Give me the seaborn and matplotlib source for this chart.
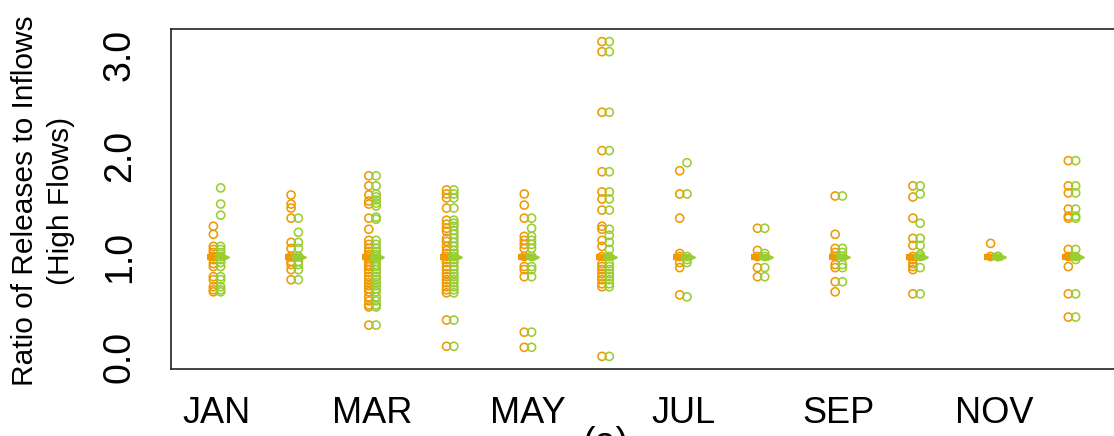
"""
Monthly ratio of releases to inflows (high flows), two series side by side.
"""
import pandas as pd
import seaborn as sns
import matplotlib.pyplot as plt

months = ['JAN', 'FEB', 'MAR', 'APR', 'MAY', 'JUN',
          'JUL', 'AUG', 'SEP', 'OCT', 'NOV', 'DEC']
tick_labels = ['JAN', '', 'MAR', '', 'MAY', '', 'JUL', '', 'SEP', '', 'NOV', '']
series = ['orange', 'green']
ref_level = 1.0

# series A (orange)
jan_a = [1.30, 1.22, 1.10, 1.07, 1.04, 1.0, 1.0, 0.97, 0.93, 0.90, 0.80, 0.77, 0.70, 0.67, 0.65]
feb_a = [1.61, 1.52, 1.48, 1.38, 1.14, 1.08, 1.0, 1.0, 0.95, 0.92, 0.87, 0.77]
mar_a = [1.80, 1.70, 1.61, 1.55, 1.52, 1.38, 1.27, 1.16, 1.12, 1.08, 1.05, 1.02, 1.0, 0.98,
         0.95, 0.92, 0.90, 0.87, 0.84, 0.80, 0.77, 0.74, 0.71, 0.68, 0.65, 0.60, 0.56, 0.52, 0.50, 0.32]
apr_a = [1.66, 1.62, 1.58, 1.48, 1.36, 1.32, 1.28, 1.25, 1.18, 1.15, 1.10, 1.06, 1.03, 1.0, 0.97,
         0.94, 0.90, 0.87, 0.83, 0.80, 0.77, 0.74, 0.70, 0.67, 0.64, 0.37, 0.11]
may_a = [1.62, 1.51, 1.38, 1.20, 1.16, 1.12, 1.08, 1.0, 0.90, 0.87, 0.80, 0.25, 0.10]
jun_a = [3.13, 3.03, 2.43, 2.05, 1.84, 1.64, 1.57, 1.46, 1.30, 1.27, 1.16, 1.10, 1.0, 0.93,
         0.90, 0.87, 0.83, 0.80, 0.77, 0.73, 0.70, 0.01]
jul_a = [1.85, 1.62, 1.38, 1.03, 1.0, 0.94, 0.89, 0.62]
aug_a = [1.28, 1.06, 1.0, 0.89, 0.80]
sep_a = [1.60, 1.22, 1.08, 1.04, 1.0, 0.92, 0.89, 0.75, 0.65]
oct_a = [1.70, 1.59, 1.38, 1.18, 1.11, 1.0, 0.97, 0.93, 0.90, 0.87, 0.63]
nov_a = [1.13, 1.0]
dec_a = [1.95, 1.70, 1.63, 1.47, 1.40, 1.38, 1.07, 1.0, 0.90, 0.63, 0.40]

# series B (green)
jan_b = [1.68, 1.52, 1.41, 1.10, 1.07, 1.04, 1.0, 1.0, 0.97, 0.94, 0.90, 0.80, 0.77, 0.70, 0.67, 0.65]
feb_b = [1.38, 1.24, 1.14, 1.08, 1.0, 1.0, 0.95, 0.92, 0.87, 0.77]
mar_b = [1.80, 1.70, 1.62, 1.59, 1.56, 1.53, 1.50, 1.39, 1.37, 1.16, 1.12, 1.08, 1.05, 1.02, 1.0,
         0.98, 0.95, 0.92, 0.90, 0.87, 0.84, 0.80, 0.77, 0.74, 0.71, 0.68, 0.65, 0.60, 0.56, 0.52, 0.50, 0.32]
apr_b = [1.66, 1.62, 1.58, 1.48, 1.36, 1.33, 1.30, 1.26, 1.22, 1.18, 1.14, 1.10, 1.06, 1.03, 1.0,
         0.97, 0.94, 0.90, 0.87, 0.83, 0.80, 0.77, 0.74, 0.70, 0.67, 0.64, 0.37, 0.11]
may_b = [1.38, 1.28, 1.20, 1.16, 1.12, 1.08, 1.0, 0.90, 0.87, 0.80, 0.25, 0.10]
jun_b = [3.13, 3.03, 2.43, 2.05, 1.84, 1.64, 1.57, 1.46, 1.27, 1.21, 1.14, 1.07, 1.0, 0.93,
         0.90, 0.87, 0.83, 0.80, 0.77, 0.73, 0.70, 0.01]
jul_b = [1.93, 1.62, 1.0, 0.97, 0.94, 0.60]
aug_b = [1.28, 1.03, 1.0, 0.89, 0.80]
sep_b = [1.60, 1.08, 1.04, 1.0, 0.92, 0.89, 0.75]
oct_b = [1.70, 1.62, 1.33, 1.18, 1.11, 1.02, 1.0, 0.89, 0.63]
nov_b = [1.0, 1.0]
dec_b = [1.95, 1.70, 1.63, 1.47, 1.40, 1.38, 1.07, 1.0, 0.97, 0.63, 0.40]

vals_a = [jan_a, feb_a, mar_a, apr_a, may_a, jun_a, jul_a, aug_a, sep_a, oct_a, nov_a, dec_a]
vals_b = [jan_b, feb_b, mar_b, apr_b, may_b, jun_b, jul_b, aug_b, sep_b, oct_b, nov_b, dec_b]

rows = []
for i, (a, b) in enumerate(zip(vals_a, vals_b)):
    rows += [(i + 1, v, 'orange') for v in a]
    rows += [(i + 1, v, 'green') for v in b]
df = pd.DataFrame(rows, columns=['month', 'ratio', 'series'])

colors = {'orange': '#EE9A00', 'green': '#9ACD32'}
offsets = {'orange': -0.047, 'green': 0.047}

sns.set_style('white')
plt.rcParams['font.family'] = ['Liberation Sans', 'DejaVu Sans']
plt.rcParams['text.color'] = 'black'
plt.rcParams['axes.labelcolor'] = 'black'
plt.rcParams['xtick.color'] = 'black'
plt.rcParams['ytick.color'] = 'black'

fig = plt.figure(figsize=(11.14, 4.36), dpi=100)
ax = fig.add_axes([171 / 1114, (436 - 369) / 436, (1118 - 171) / 1114, 340 / 436])

for s in series:
    sub = df[df['series'] == s]
    sns.scatterplot(x=sub['month'] + offsets[s], y=sub['ratio'], ax=ax, marker='o', s=34,
                    facecolor='none', edgecolor=colors[s], linewidth=1.15, legend=False)

# level markers at 1.0
m = pd.Series(range(1, 13))
ax.hlines([ref_level] * 12, m - 0.13, m - 0.03, color=colors['orange'], lw=4.5, zorder=3)
ax.hlines([ref_level] * 12, m - 0.03, m + 0.10, color=colors['green'], lw=4.5, zorder=3)
ax.plot(m + 0.11, [ref_level] * 12, ls='none', marker='>', ms=5, color=colors['green'], zorder=3)

ax.set_xlim(0.408, 12.592)
ax.set_ylim(-0.115, 3.255)
ax.set_xticks(range(1, 13))
ax.set_xticklabels(tick_labels)
ax.set_yticks([0, 0.5, 1, 1.5, 2, 2.5, 3])
ax.set_yticklabels(['0.0', '', '1.0', '', '2.0', '', '3.0'], rotation=90, va='center')
ax.tick_params(axis='x', length=11.5, width=1, labelsize=26, pad=8)
ax.tick_params(axis='y', length=11, width=1, labelsize=27, pad=13)
ax.set_xlabel('')
ax.set_ylabel('Ratio of Releases to Inflows\n(High Flows)', fontsize=21.5,
              linespacing=1.38, va='center')
ax.yaxis.set_label_coords(-0.135, 0.495)
for sp in ax.spines.values():
    sp.set_color('#222222')
    sp.set_linewidth(1.2)

fig.text(606 / 1114, (436 - 426) / 436, '(a)', fontsize=27, ha='center', va='top')

fig.savefig('out.png', dpi=100)
